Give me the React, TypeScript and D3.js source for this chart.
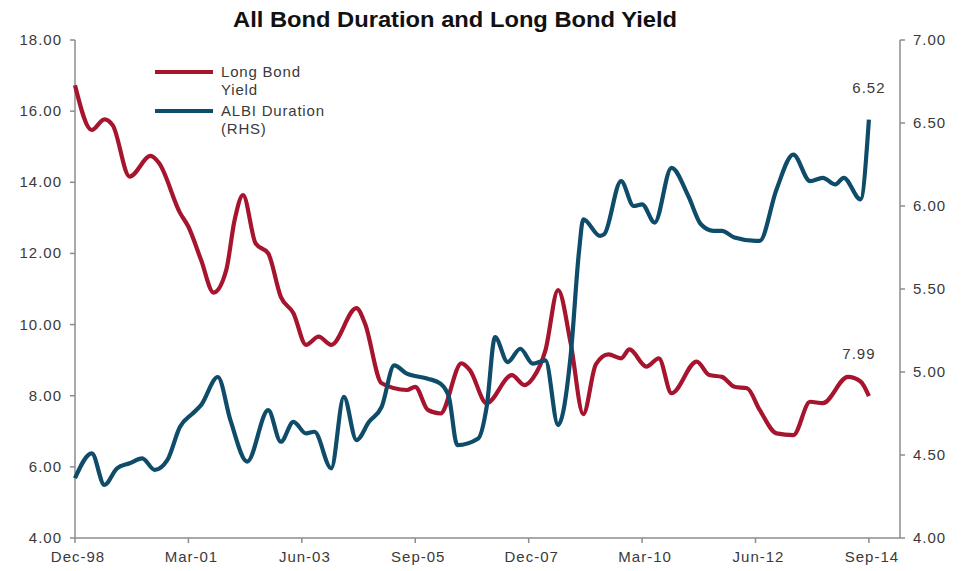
import React from "react";
import * as d3 from "d3";

const title = "All Bond Duration and Long Bond Yield";

const yieldDates = ["1998-12","1999-04","1999-07","1999-09","2000-01","2000-06","2000-08","2001-01","2001-03","2001-06","2001-09","2001-12","2002-02","2002-04","2002-07","2002-10","2003-01","2003-04","2003-07","2003-10","2004-01","2004-07","2004-09","2005-01","2005-07","2005-09","2005-12","2006-03","2006-08","2006-10","2007-02","2007-08","2007-11","2008-01","2008-04","2008-07","2008-10","2009-01","2009-04","2009-07","2009-10","2009-12","2010-04","2010-07","2010-10","2011-04","2011-07","2011-10","2012-01","2012-04","2012-07","2012-11","2013-03","2013-07","2013-10","2014-04","2014-07","2014-09"];
const yieldValues = [16.73,15.47,15.77,15.6,14.16,14.74,14.54,13.14,12.75,11.82,10.9,11.53,12.94,13.64,12.28,12.0,10.78,10.32,9.43,9.66,9.43,10.46,10.04,8.35,8.16,8.25,7.6,7.5,8.91,8.72,7.79,8.58,8.3,8.49,9.28,10.97,9.48,7.48,8.88,9.16,9.05,9.3,8.82,9.05,8.07,8.96,8.58,8.53,8.25,8.21,7.6,6.94,6.89,7.83,7.79,8.53,8.4,7.99];

const durationDates = ["1998-12","1999-04","1999-07","1999-10","2000-01","2000-04","2000-07","2000-10","2001-01","2001-04","2001-06","2001-10","2002-01","2002-05","2002-10","2003-01","2003-04","2003-07","2003-09","2004-01","2004-04","2004-07","2004-10","2005-01","2005-04","2005-07","2005-12","2006-03","2006-05","2006-07","2006-12","2007-02","2007-04","2007-07","2007-10","2008-01","2008-04","2008-07","2008-10","2008-12","2009-01","2009-05","2009-06","2009-10","2010-01","2010-03","2010-06","2010-10","2011-02","2011-05","2011-08","2011-10","2012-01","2012-06","2012-07","2012-11","2013-03","2013-07","2013-10","2014-01","2014-03","2014-07","2014-09"];
const durationValues = [4.36,4.51,4.32,4.42,4.45,4.48,4.41,4.47,4.67,4.75,4.8,4.97,4.71,4.46,4.77,4.58,4.7,4.63,4.64,4.42,4.85,4.59,4.7,4.79,5.04,4.99,4.96,4.93,4.85,4.56,4.6,4.79,5.21,5.06,5.14,5.05,5.07,4.68,5.1,5.73,5.92,5.82,5.83,6.15,6.0,6.01,5.9,6.23,6.06,5.89,5.85,5.85,5.81,5.79,5.79,6.1,6.31,6.15,6.17,6.13,6.17,6.04,6.52];

const xTickDates = ["1998-12","2001-03","2003-06","2005-09","2007-12","2010-03","2012-06","2014-09"];
const xTickLabels = ["Dec-98","Mar-01","Jun-03","Sep-05","Dec-07","Mar-10","Jun-12","Sep-14"];
const leftTicks = [4, 6, 8, 10, 12, 14, 16, 18];
const rightTicks = [4, 4.5, 5, 5.5, 6, 6.5, 7];
const legendLabels = [["Long Bond", "Yield"], ["ALBI Duration", "(RHS)"]];
const yieldLast = "7.99";
const durationLast = "6.52";

const monthIndex = (s: string) => {
  const [y, m] = s.split("-").map(Number);
  return (y - 1998) * 12 + (m - 12);
};

const RED = "#A6142E";
const BLUE = "#0E4C6A";
const AXIS = "#8c8c8c";
const TXT = "#3a3a3a";
const FONT = "'Liberation Sans', Arial, sans-serif";

export default function App() {
  const W = 971, H = 571;
  const left = 75, right = 900, top = 40, bottom = 538;
  const x = d3.scaleLinear().domain([0, 196.4]).range([left, right]);
  const yL = d3.scaleLinear().domain([4, 18]).range([bottom, top]);
  const yR = d3.scaleLinear().domain([4, 7]).range([bottom, top]);

  const yieldData = yieldDates.map((d, i) => ({ m: monthIndex(d), v: yieldValues[i] }));
  const durData = durationDates.map((d, i) => ({ m: monthIndex(d), v: durationValues[i] }));

  const lineL = d3.line<{ m: number; v: number }>().x(d => x(d.m)).y(d => yL(d.v)).curve(d3.curveMonotoneX);
  const lineR = d3.line<{ m: number; v: number }>().x(d => x(d.m)).y(d => yR(d.v)).curve(d3.curveMonotoneX);

  const lastY = yieldData[yieldData.length - 1];
  const lastD = durData[durData.length - 1];

  return (
    <svg width={W} height={H} style={{ position: "absolute", left: 0, top: 0, background: "#fff" }} fontFamily={FONT}>
      <rect x={0} y={0} width={W} height={H} fill="#fff" />
      <text x={455} y={27} textAnchor="middle" fontSize={22} fontWeight="bold" fill="#111"
        textLength={444} lengthAdjust="spacingAndGlyphs">{title}</text>

      {/* axes */}
      <g stroke={AXIS} strokeWidth={1.5} fill="none">
        <line x1={left} x2={left} y1={top} y2={bottom} />
        <line x1={right} x2={right} y1={top} y2={bottom} />
        <line x1={left} x2={right} y1={bottom} y2={bottom} />
        {leftTicks.map(t => <line key={"lt" + t} x1={left - 5} x2={left} y1={yL(t)} y2={yL(t)} />)}
        {rightTicks.map(t => <line key={"rt" + t} x1={right} x2={right + 5} y1={yR(t)} y2={yR(t)} />)}
        {xTickDates.map(d => <line key={"xt" + d} x1={x(monthIndex(d))} x2={x(monthIndex(d))} y1={bottom} y2={bottom + 5} />)}
      </g>
      <g fontSize={15} fill={TXT} letterSpacing={1}>
        {leftTicks.map(t => (
          <text key={"ll" + t} x={62} y={yL(t) + 5} textAnchor="end">{t.toFixed(2)}</text>
        ))}
        {rightTicks.map(t => (
          <text key={"rl" + t} x={913} y={yR(t) + 5} textAnchor="start">{t.toFixed(2)}</text>
        ))}
        {xTickDates.map((d, i) => (
          <text key={"xl" + d} x={x(monthIndex(d)) + 3} y={562} textAnchor="middle">{xTickLabels[i]}</text>
        ))}
      </g>

      {/* lines */}
      <path d={lineL(yieldData) || ""} fill="none" stroke={RED} strokeWidth={4.2} strokeLinejoin="round" />
      <path d={lineR(durData) || ""} fill="none" stroke={BLUE} strokeWidth={4.2} strokeLinejoin="round" />

      {/* end labels */}
      <g fontSize={15} fill={TXT} letterSpacing={1}>
        <text x={x(lastY.m) - 10} y={yL(lastY.v) - 37} textAnchor="middle">{yieldLast}</text>
        <text x={x(lastD.m)} y={yR(lastD.v) - 27} textAnchor="middle">{durationLast}</text>
      </g>

      {/* legend */}
      <g>
        <line x1={155} x2={213} y1={72} y2={72} stroke={RED} strokeWidth={4.2} />
        <line x1={155} x2={213} y1={111} y2={111} stroke={BLUE} strokeWidth={4.2} />
        <g fontSize={15} fill={TXT} letterSpacing={0.8}>
          <text x={221} y={77}>{legendLabels[0][0]}</text>
          <text x={221} y={95}>{legendLabels[0][1]}</text>
          <text x={221} y={116}>{legendLabels[1][0]}</text>
          <text x={221} y={134}>{legendLabels[1][1]}</text>
        </g>
      </g>
    </svg>
  );
}
